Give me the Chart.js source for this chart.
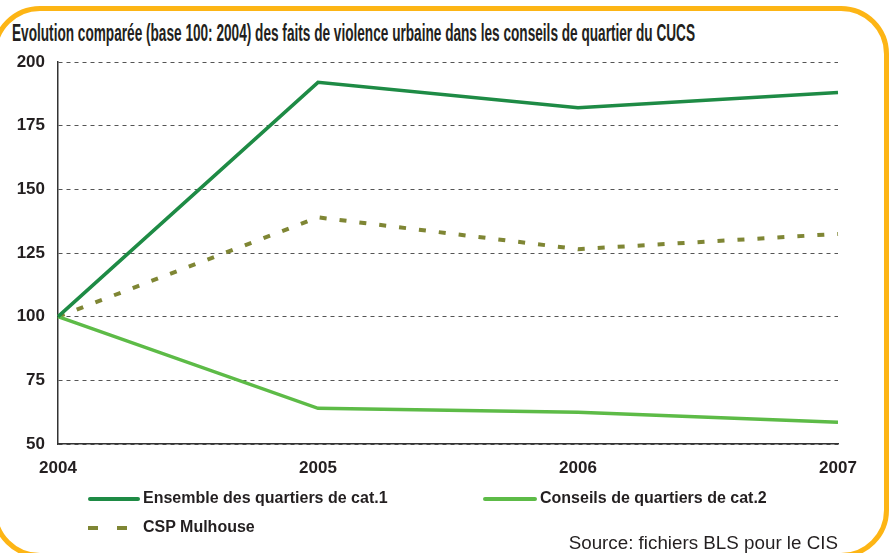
<!DOCTYPE html>
<html><head><meta charset="utf-8">
<script src="https://cdn.jsdelivr.net/npm/chart.js@4"></script>
<style>
html,body{margin:0;padding:0;background:#fff;width:891px;height:553px;overflow:hidden;position:relative;font-family:"Liberation Sans",Arial,sans-serif;}
#frame{position:absolute;left:-8px;top:6px;width:897px;height:552px;box-sizing:border-box;border:5px solid #FDB515;border-radius:48px;}
#title{position:absolute;left:12px;top:20px;font-family:"Liberation Sans",Arial,sans-serif;font-weight:bold;font-size:23px;color:#231f20;white-space:nowrap;transform-origin:0 0;}
#c{position:absolute;left:0;top:0;}
.leg{position:absolute;font-weight:bold;font-size:16px;color:#231f20;white-space:nowrap;}
.sw{position:absolute;}
#src{position:absolute;right:53px;top:532px;font-size:18.8px;color:#231f20;white-space:nowrap;}
</style></head>
<body>
<div id="frame"></div>
<div id="title">Evolution comparée (base 100: 2004) des faits de violence urbaine dans les conseils de quartier du CUCS</div>
<canvas id="c" width="891" height="553" style="width:891px;height:553px"></canvas>
<div id="legend"></div>
<div id="src">Source: fichiers BLS pour le CIS</div>
<script>
const years = ["2004","2005","2006","2007"];
const cat1 = [100, 192, 182, 188];
const cat2 = [100, 64, 62.5, 58.5];
const csp = [100, 139, 126.5, 132.5];
const yTicks = [50, 75, 100, 125, 150, 175, 200];
const seriesNames = ["Ensemble des quartiers de cat.1", "Conseils de quartiers de cat.2", "CSP Mulhouse"];
const colors = ["#1E8B45", "#5DBB47", "#7F8634"];

// fit title width
const t = document.getElementById('title');
const w = t.getBoundingClientRect().width;
t.style.transform = 'scaleX(' + (683 / w) + ')';

const datasets = [
  {label: seriesNames[0], data: cat1, borderColor: colors[0], borderWidth: 3.5, pointRadius: 0, tension: 0, fill: false},
  {label: seriesNames[1], data: cat2, borderColor: colors[1], borderWidth: 3.5, pointRadius: 0, tension: 0, fill: false},
  {label: seriesNames[2], data: csp, borderColor: colors[2], borderWidth: 4, borderDash: [7, 13], pointRadius: 0, tension: 0, fill: false}
];
const tickFont = {family: "'Liberation Sans', Arial, sans-serif", size: 17, weight: 'bold'};
new Chart(document.getElementById('c'), {
  type: 'line',
  data: {labels: years, datasets: datasets},
  options: {
    responsive: false, animation: false,
    layout: {padding: {top: 62, right: 53, left: 0, bottom: 0}},
    plugins: {legend: {display: false}, tooltip: {enabled: false}},
    scales: {
      x: {
        offset: false,
        grid: {display: false, drawTicks: false},
        border: {display: true, color: '#333', width: 1.5},
        ticks: {font: tickFont, color: '#231f20', padding: 14, autoSkip: false, maxRotation: 0},
        afterFit: s => { s.height = 109; }
      },
      y: {
        min: 50, max: 200,
        afterBuildTicks: s => { s.ticks = yTicks.map(v => ({value: v})); },
        grid: {color: '#555', lineWidth: 1, drawTicks: false},
        border: {display: true, color: '#333', width: 1.5, dash: [4, 4]},
        ticks: {font: tickFont, color: '#231f20', padding: 13},
        afterFit: s => { s.width = 58; }
      }
    }
  }
});

// HTML legend from series
const leg = document.getElementById('legend');
const pos = [[88, 499], [483, 499], [88, 528]];
seriesNames.forEach((n, i) => {
  const [x, y] = pos[i];
  const sw = document.createElement('div');
  sw.className = 'sw';
  sw.style.left = x + 'px'; sw.style.top = (y - 2) + 'px';
  sw.style.width = (i === 1 ? 54 : 52) + 'px'; sw.style.height = '4px';
  if (i === 2) {
    sw.style.width = '40px';
    sw.style.background = 'repeating-linear-gradient(90deg,' + colors[2] + ' 0 10px, transparent 10px 29px)';
  } else {
    sw.style.background = colors[i];
    sw.style.borderRadius = '2px';
  }
  leg.appendChild(sw);
  const lb = document.createElement('div');
  lb.className = 'leg';
  lb.textContent = n;
  lb.style.left = (x + (i === 1 ? 57 : 55)) + 'px';
  lb.style.top = (y - 10) + 'px';
  leg.appendChild(lb);
});
</script>
</body></html>
